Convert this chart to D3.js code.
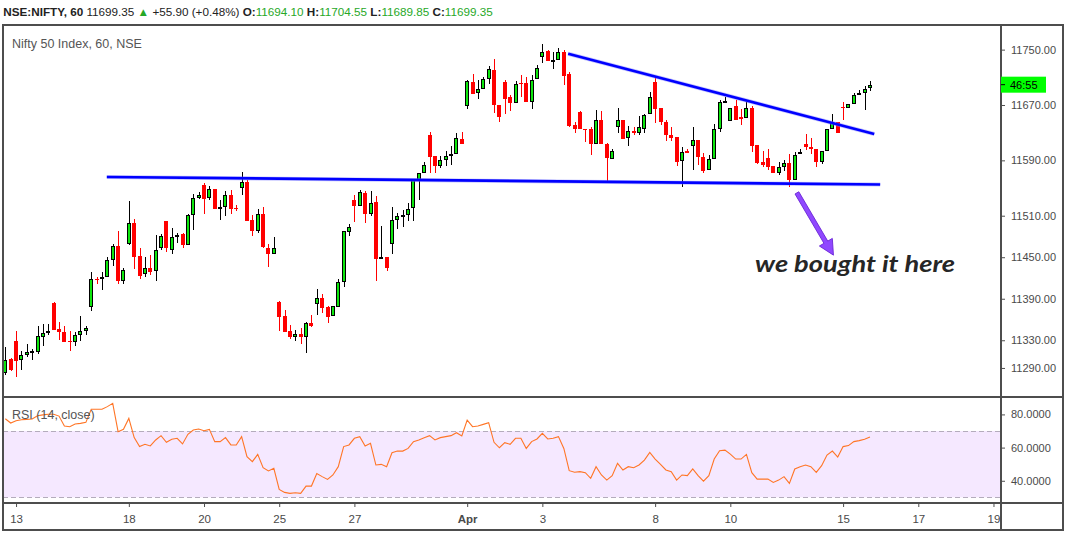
<!DOCTYPE html>
<html><head><meta charset="utf-8">
<script src="https://cdn.jsdelivr.net/npm/d3@7"></script>
<style>html,body{margin:0;padding:0;background:#fff;}svg{display:block;}</style>
</head><body>
<svg id="c" width="1067" height="535"></svg>
<script>
// ---------------- data ----------------
const opens = [11282,11303,11329,11301,11308,11312,11313,11335,11340,11384,11346,11342,11329,11327,11337,11344,11378,11418,11418,11422,11446,11466,11415,11469,11499,11452,11426,11434,11430,11463,11502,11461,11480,11484,11467,11511,11535,11554,11535,11548,11520,11522,11540,11521,11550,11559,11504,11488,11513,11464,11455,11386,11365,11343,11334,11339,11334,11355,11383,11391,11378,11365,11378,11414,11487,11533,11524,11543,11512,11530,11447,11451,11469,11504,11509,11511,11521,11562,11571,11627,11596,11582,11590,11596,11599,11621,11669,11703,11687,11693,11708,11720,11670,11703,11681,11673,11702,11702,11675,11707,11739,11748,11734,11735,11746,11715,11641,11660,11636,11635,11613,11648,11613,11592,11638,11648,11622,11633,11629,11636,11657,11703,11665,11646,11627,11624,11589,11603,11611,11620,11595,11576,11592,11636,11674,11647,11668,11652,11651,11665,11612,11587,11593,11582,11571,11580,11586,11562,11599,11613,11610,11606,11588,11603,11635,11646,11667,11666,11672,11684,11688,11694.10];
const highs = [11320,11304,11343,11315,11325,11317,11350,11353,11354,11385,11357,11350,11344,11342,11365,11351,11429,11422,11429,11450,11469,11488,11435,11531,11505,11464,11451,11453,11482,11484,11502,11492,11485,11485,11513,11542,11544,11557,11553,11548,11533,11545,11547,11526,11573,11562,11511,11519,11523,11469,11479,11387,11374,11352,11345,11348,11357,11367,11404,11397,11380,11379,11418,11488,11498,11540,11547,11545,11546,11538,11495,11451,11523,11514,11518,11528,11562,11571,11588,11631,11596,11596,11603,11611,11629,11631,11706,11715,11706,11711,11726,11736,11670,11706,11685,11705,11713,11711,11713,11728,11758,11750,11746,11753,11750,11717,11645,11661,11636,11638,11663,11661,11615,11607,11665,11648,11639,11638,11654,11657,11689,11709,11665,11648,11638,11624,11610,11606,11638,11620,11600,11598,11643,11677,11682,11666,11677,11664,11675,11668,11612,11603,11606,11582,11587,11590,11599,11602,11606,11628,11622,11606,11603,11635,11657,11646,11675,11672,11688,11691,11698,11704.55];
const lows = [11280,11286,11277,11287,11306,11302,11310,11322,11338,11345,11330,11328,11315,11321,11329,11338,11373,11411,11402,11421,11438,11412,11412,11468,11433,11418,11422,11425,11415,11461,11457,11454,11470,11464,11467,11490,11534,11512,11533,11520,11504,11510,11513,11517,11540,11503,11481,11485,11464,11436,11455,11344,11342,11332,11329,11324,11312,11349,11366,11370,11355,11365,11378,11407,11481,11501,11524,11499,11509,11415,11447,11430,11454,11491,11494,11503,11503,11532,11571,11572,11572,11579,11582,11584,11599,11613,11664,11686,11679,11693,11700,11659,11646,11657,11662,11673,11681,11674,11664,11707,11730,11734,11722,11735,11699,11638,11629,11635,11617,11598,11613,11613,11559,11592,11629,11621,11611,11627,11627,11629,11657,11644,11641,11618,11618,11582,11552,11600,11576,11583,11572,11576,11592,11631,11674,11647,11648,11641,11651,11602,11585,11581,11576,11571,11569,11574,11552,11562,11599,11605,11599,11581,11585,11603,11635,11630,11648,11666,11672,11684,11663,11689.85];
const closes = [11302,11287,11300,11309,11313,11314,11336,11341,11343,11345,11342,11328,11327,11337,11344,11348,11418,11417,11421,11446,11466,11416,11431,11499,11451,11423,11434,11429,11461,11480,11463,11479,11482,11467,11511,11535,11540,11534,11548,11520,11522,11540,11520,11519,11558,11503,11488,11513,11465,11454,11463,11363,11342,11334,11339,11334,11355,11351,11391,11377,11364,11379,11414,11488,11493,11524,11544,11512,11529,11447,11451,11435,11504,11510,11511,11519,11562,11571,11583,11595,11582,11590,11596,11599,11622,11613,11705,11686,11693,11708,11722,11670,11653,11679,11673,11701,11700,11674,11706,11723,11747,11734,11735,11746,11712,11640,11635,11635,11634,11613,11648,11613,11593,11604,11648,11621,11632,11630,11638,11655,11682,11664,11645,11626,11623,11588,11602,11600,11620,11595,11575,11592,11636,11674,11676,11666,11648,11650,11665,11611,11586,11583,11581,11571,11580,11586,11562,11598,11602,11609,11606,11588,11603,11635,11644,11630,11666,11672,11684,11688,11693,11699.35];
const rsiValues = [77.4,74.8,76.2,76.8,77.0,77.2,79.2,79.7,80.1,80.1,79.0,73.0,72.6,74.2,74.6,75.2,83.1,83.1,83.1,84.7,86.7,69.6,71.0,77.6,66.0,60.6,62.0,61.0,64.6,67.2,63.2,65.0,65.6,62.2,68.0,70.6,71.2,70.2,71.0,63.6,63.6,66.0,61.6,61.6,66.6,54.5,51.5,55.9,47.9,45.9,47.5,34.8,33.0,32.4,32.8,32.4,36.8,36.8,44.3,42.5,40.8,43.5,48.5,60.6,61.6,65.6,66.6,61.0,62.6,49.5,49.9,48.5,56.9,57.9,57.9,59.5,63.6,64.6,66.0,67.2,64.6,66.0,66.6,67.2,69.0,67.0,76.6,72.6,73.0,74.0,75.0,63.2,59.9,63.0,62.0,65.6,65.6,59.5,63.6,65.2,68.6,65.2,65.6,66.6,59.5,46.1,45.1,45.5,44.9,41.5,48.5,43.5,40.4,43.1,50.5,46.5,48.5,47.9,49.5,52.5,57.1,53.1,49.9,46.5,45.5,40.4,43.5,43.1,47.1,43.1,39.8,43.1,53.1,58.1,58.5,56.1,53.1,53.1,55.9,44.9,41.0,41.0,41.0,39.0,40.4,42.5,38.4,47.1,48.5,49.5,48.5,45.1,49.1,55.5,57.9,54.3,60.6,61.2,63.6,64.2,65.0,66.4];
const dateTickIndex = [2,23,37,51,65,86,100,121,135,156,170,184];
const dateTickLabels = ["13","18","20","25","27","Apr","3","8","10","15","17","19"];
const priceTicks = [11750,11670,11590,11510,11450,11390,11330,11290];
const rsiTicks = [80,60,40];
const rsiBand = [70,30];
const supportLine = [[18.9,11566],[162.9,11555]];
const resistanceLine = [[104.8,11744],[161.8,11628]];
const arrowPts = [[147.4,11543],[154.2,11453]];
const noteAnchor = [139.6,11429];
const noteText = "we bought it here";
const symbolText = "NSE:NIFTY, 60";
const changeText = "+55.90 (+0.48%)";
const titleText = "Nifty 50 Index, 60, NSE";
const rsiLabel = "RSI (14, close)";
const countdown = "46:55";

// ---------------- layout ----------------
const L = 3, R = 1001, AXR = 1063, T = 25, PB = 397, RB = 503, B = 530;
const svg = d3.select("#c");
const FONT = "'Liberation Sans', Arial, sans-serif";
const GREEN = "#0ee60e", RED = "#ff0000";

const x = d3.scaleLinear().domain([-0.43, 185.4]).range([L, R]);
const y = d3.scaleLinear().domain([11248, 11785.6]).range([PB, T]);
const yr = d3.scaleLinear().domain([26.6, 90.5]).range([RB, PB]);

const defs = svg.append("defs");
defs.append("clipPath").attr("id","cp").append("rect").attr("x",L).attr("y",T).attr("width",R-L).attr("height",PB-T);
defs.append("clipPath").attr("id","cr").append("rect").attr("x",L).attr("y",PB).attr("width",R-L).attr("height",RB-PB);

// RSI band
const rsiG = svg.append("g").attr("clip-path","url(#cr)");
rsiG.append("rect").attr("x",L).attr("width",R-L)
  .attr("y",yr(rsiBand[0])).attr("height",yr(rsiBand[1])-yr(rsiBand[0])).attr("fill","#f5e8ff");
rsiBand.forEach(v=>{
  rsiG.append("line").attr("x1",L).attr("x2",R).attr("y1",Math.round(yr(v))+0.5).attr("y2",Math.round(yr(v))+0.5)
    .attr("stroke","#b4acbc").attr("stroke-dasharray","5,3");
});
rsiG.append("path").datum(rsiValues)
  .attr("d", d3.line().x((d,i)=>x(i)).y(d=>yr(d)))
  .attr("fill","none").attr("stroke","#ff7526").attr("stroke-width",1.1);
svg.append("text").attr("x",12).attr("y",418.5).attr("font-family",FONT).attr("font-size",12.5)
  .attr("fill","#555").text(rsiLabel);

// candles
const data = closes.map((c,i)=>({i, o:opens[i], h:highs[i], l:lows[i], c}));
const cg = svg.append("g").attr("clip-path","url(#cp)").attr("shape-rendering","crispEdges");
const cand = cg.selectAll("g.k").data(data).join("g");
cand.append("line")
  .attr("x1",d=>Math.round(x(d.i))+0.5).attr("x2",d=>Math.round(x(d.i))+0.5)
  .attr("y1",d=>y(d.h)).attr("y2",d=>y(d.l))
  .attr("stroke",d=>d.c>=d.o?"#000":RED).attr("stroke-width",1);
cand.append("rect")
  .attr("x",d=>d.c>=d.o?Math.round(x(d.i))-1.5:Math.round(x(d.i))-2)
  .attr("width",d=>d.c>=d.o?3:4)
  .attr("y",d=>Math.round(y(Math.max(d.o,d.c)))+(d.c>=d.o?0.5:0))
  .attr("height",d=>Math.max(Math.round(y(Math.min(d.o,d.c)))-Math.round(y(Math.max(d.o,d.c)))-(d.c>=d.o?1:0),1))
  .attr("fill",d=>d.c>=d.o?GREEN:RED)
  .attr("stroke",d=>d.c>=d.o?"#000":"none").attr("stroke-width",1);

// trend lines
const tl = d3.line().x(d=>x(d[0])).y(d=>y(d[1]));
const lg = svg.append("g").attr("clip-path","url(#cp)");
[supportLine, resistanceLine].forEach(p=>{
  lg.append("path").attr("d",tl(p)).attr("stroke","#8080ff").attr("stroke-width",4).attr("fill","none").attr("opacity",0.45);
  lg.append("path").attr("d",tl(p)).attr("stroke","#0000ff").attr("stroke-width",2.6).attr("fill","none");
});

// arrow annotation
(function(){
  const x0=x(arrowPts[0][0]), y0=y(arrowPts[0][1]), x1=x(arrowPts[1][0]), y1=y(arrowPts[1][1]);
  const dx=x1-x0, dy=y1-y0, len=Math.hypot(dx,dy), ux=dx/len, uy=dy/len, px=-uy, py=ux;
  const hl=15, hw=7.5, sw=2.2;
  const bx=x1-ux*hl, by=y1-uy*hl;
  const pts=[[x0+px*sw,y0+py*sw],[bx+px*sw,by+py*sw],[bx+px*hw,by+py*hw],[x1,y1],[bx-px*hw,by-py*hw],[bx-px*sw,by-py*sw],[x0-px*sw,y0-py*sw]];
  svg.append("path").attr("d",d3.line()(pts)+"Z").attr("fill","#9048ff").attr("stroke","#6a25d6").attr("stroke-width",0.9).attr("stroke-linejoin","round");
})();
svg.append("text").attr("x",x(noteAnchor[0])).attr("y",y(noteAnchor[1]))
  .attr("font-family","'Comic Sans MS', Lato, sans-serif").attr("font-weight","bold").attr("font-style","italic")
  .attr("font-size",22).attr("fill","#262626").attr("textLength",200).attr("lengthAdjust","spacingAndGlyphs").text(noteText);

// frame
const fg = svg.append("g").attr("stroke","#4d4d4d").attr("stroke-width",1.2).attr("shape-rendering","crispEdges");
fg.append("rect").attr("x",L).attr("y",T).attr("width",AXR-L).attr("height",B-T).attr("fill","none");
fg.append("line").attr("x1",L).attr("x2",AXR).attr("y1",PB).attr("y2",PB);
fg.append("line").attr("x1",L).attr("x2",AXR).attr("y1",RB).attr("y2",RB);
fg.append("line").attr("x1",R).attr("x2",R).attr("y1",T).attr("y2",B);

// price axis
const pa = svg.append("g").attr("transform",`translate(${R},0)`)
  .call(d3.axisRight(y).tickValues(priceTicks).tickSize(4).tickPadding(6).tickFormat(d3.format(".2f")));
pa.select(".domain").remove();
pa.selectAll("line").attr("stroke","#4d4d4d");
pa.selectAll("text").attr("font-family",FONT).attr("font-size",11).attr("fill","#4a4a4a");
// RSI axis
const ra = svg.append("g").attr("transform",`translate(${R},0)`)
  .call(d3.axisRight(yr).tickValues(rsiTicks).tickSize(4).tickPadding(6).tickFormat(d3.format(".4f")));
ra.select(".domain").remove();
ra.selectAll("line").attr("stroke","#4d4d4d");
ra.selectAll("text").attr("font-family",FONT).attr("font-size",11).attr("fill","#4a4a4a");
// time axis
const ta = svg.append("g").attr("transform",`translate(0,${RB})`)
  .call(d3.axisBottom(x).tickValues(dateTickIndex).tickSize(4).tickPadding(8).tickFormat((d,i)=>dateTickLabels[i]));
ta.select(".domain").remove();
ta.selectAll("line").attr("stroke","#4d4d4d");
ta.selectAll("text").attr("font-family",FONT).attr("font-size",11.5).attr("fill","#4a4a4a")
  .attr("font-weight",(d,i)=>dateTickLabels[i]==="Apr"?"bold":"normal");

// countdown label at last close
const lastC = closes[closes.length-1];
svg.append("rect").attr("x",R).attr("y",y(lastC)-8).attr("width",45).attr("height",16).attr("fill","#00ff00");
svg.append("line").attr("x1",R).attr("x2",R+4).attr("y1",y(lastC)).attr("y2",y(lastC)).attr("stroke","#000");
svg.append("text").attr("x",R+9).attr("y",y(lastC)+4).attr("font-family",FONT).attr("font-size",11).attr("fill","#000").text(countdown);

// title
svg.append("text").attr("x",12).attr("y",47.5).attr("font-family",FONT).attr("font-size",12.5).attr("fill","#555").text(titleText);

// header: one text element built from tspans, natural widths (no compression)
const n = closes.length-1, f2 = d3.format(".2f");
const GV="#27a827", DK="#222";
const hdr = svg.append("text").attr("x",3.3).attr("y",15.5).attr("font-family",FONT).attr("font-size",11.7)
  .attr("xml:space","preserve");
const parts = [
  [symbolText+" ",DK,true],[f2(closes[n])+" ",DK,false],["\u25B2",GV,false],[" "+changeText+" ",DK,false],
  ["O:",DK,true],[f2(opens[n])+" ",GV,false],["H:",DK,true],[f2(highs[n])+" ",GV,false],
  ["L:",DK,true],[f2(lows[n])+" ",GV,false],["C:",DK,true],[f2(closes[n]),GV,false]
];
parts.forEach(p=>hdr.append("tspan").attr("fill",p[1]).attr("font-weight",p[2]?"bold":"normal").text(p[0]));
</script>
</body></html>
